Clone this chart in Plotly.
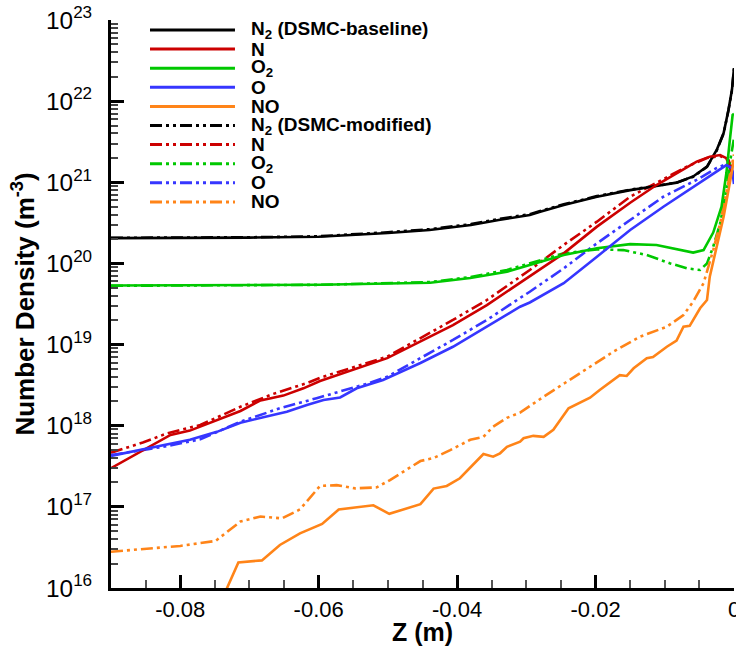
import plotly.graph_objects as go

# ---------------- data (Z in m, number density in m^-3) ----------------
N2_base_x = [-0.0900, -0.0800, -0.0700, -0.0600, -0.0550, -0.0500, -0.0440, -0.0380, -0.0340, -0.0295,
             -0.0280, -0.0246, -0.0198, -0.0150, -0.0112, -0.0083, -0.0059, -0.0039, -0.0025, -0.0015,
             -0.0008, -0.0003, 0.0]
N2_base_y = [2.05e20, 2.06e20, 2.08e20, 2.13e20, 2.24e20, 2.37e20, 2.58e20, 2.97e20, 3.43e20, 3.95e20,
             4.34e20, 5.25e20, 6.64e20, 8.0e20, 9.0e20, 9.9e20, 1.18e21, 1.56e21, 2.5e21, 4.05e21,
             7.8e21, 1.37e22, 2.56e22]
N2_mod_x = N2_base_x
N2_mod_y = [2.07e20, 2.08e20, 2.10e20, 2.16e20, 2.28e20, 2.42e20, 2.64e20, 3.05e20, 3.52e20, 4.05e20,
            4.42e20, 5.35e20, 6.75e20, 8.1e20, 9.05e20, 9.9e20, 1.17e21, 1.55e21, 2.45e21, 4.0e21,
            7.7e21, 1.35e22, 2.5e22]

N_base_x = [-0.0900, -0.0897, -0.0868, -0.0848, -0.0814, -0.0786, -0.0747, -0.0713, -0.0684, -0.0651,
            -0.0622, -0.0598, -0.0501, -0.0406, -0.0357, -0.0309, -0.0295, -0.0246, -0.0198, -0.0150,
            -0.0112, -0.0078, -0.0054, -0.0035, -0.0020, -0.0011, -0.0006, 0.0]
N_base_y = [3.0e17, 3.1e17, 4.24e17, 5.26e17, 7.7e17, 8.7e17, 1.18e18, 1.52e18, 2.05e18, 2.35e18,
            2.89e18, 3.55e18, 6.8e18, 1.74e19, 3.07e19, 5.74e19, 6.86e19, 1.33e20, 2.84e20, 5.6e20,
            9.25e20, 1.36e21, 1.8e21, 2.07e21, 2.17e21, 1.98e21, 1.56e21, 1.1e21]
N_mod_x = [-0.0900, -0.0854, -0.0819, -0.0771, -0.0713, -0.0666, -0.0617, -0.0598, -0.0501, -0.0406,
           -0.0357, -0.0309, -0.0295, -0.0246, -0.0198, -0.0150, -0.0102, -0.0068, -0.0039, -0.0020,
           -0.0008, 0.0]
N_mod_y = [4.65e17, 6.2e17, 8.05e17, 1.02e18, 1.71e18, 2.46e18, 3.35e18, 3.9e18, 7.1e18, 2.01e19,
           3.54e19, 6.86e19, 8.3e19, 1.69e20, 3.27e20, 6.64e20, 1.1e21, 1.56e21, 1.99e21, 2.1e21,
           1.88e21, 1.25e21]

O2_base_x = [-0.0900, -0.0800, -0.0700, -0.0598, -0.0439, -0.0381, -0.0328, -0.0295, -0.0246, -0.0198,
             -0.0150, -0.0112, -0.0083, -0.0059, -0.0044, -0.0030, -0.0018, -0.0011, -0.0006, -0.0002, 0.0]
O2_base_y = [5.35e19, 5.37e19, 5.4e19, 5.45e19, 5.78e19, 6.6e19, 7.9e19, 9.55e19, 1.27e20, 1.54e20,
             1.73e20, 1.69e20, 1.49e20, 1.36e20, 1.46e20, 2.4e20, 5.0e20, 1.3e21, 3.32e21, 6.75e21, 7.0e21]
O2_mod_x = [-0.0900, -0.0800, -0.0700, -0.0598, -0.0439, -0.0381, -0.0328, -0.0295, -0.0246, -0.0198,
            -0.0160, -0.0126, -0.0092, -0.0068, -0.0049, -0.0039, -0.0030, -0.0020, -0.0011, -0.0006, 0.0]
O2_mod_y = [5.3e19, 5.33e19, 5.38e19, 5.45e19, 5.9e19, 6.8e19, 8.3e19, 1.0e20, 1.33e20, 1.49e20,
            1.46e20, 1.27e20, 1.0e20, 8.7e19, 8.3e19, 1.0e20, 1.61e20, 3.12e20, 8.0e20, 1.73e21, 3.5e21]

O_base_x = [-0.0900, -0.0854, -0.0819, -0.0786, -0.0747, -0.0713, -0.0680, -0.0646, -0.0617, -0.0593,
            -0.0569, -0.0545, -0.0507, -0.0453, -0.0406, -0.0357, -0.0309, -0.0295, -0.0246, -0.0198,
            -0.0150, -0.0102, -0.0054, -0.0025, -0.0011, -0.0003, 0.0]
O_base_y = [4.24e17, 5.1e17, 5.78e17, 6.7e17, 8.4e17, 1.09e18, 1.27e18, 1.49e18, 1.80e18, 2.07e18,
            2.23e18, 2.89e18, 3.66e18, 5.93e18, 9.4e18, 1.66e19, 2.93e19, 3.3e19, 5.7e19, 1.21e20,
            2.58e20, 5.0e20, 9.25e20, 1.36e21, 1.63e21, 1.5e21, 9.5e20]
O_mod_x = [-0.0900, -0.0819, -0.0771, -0.0713, -0.0656, -0.0603, -0.0530, -0.0501, -0.0406, -0.0357,
           -0.0309, -0.0295, -0.0246, -0.0198, -0.0150, -0.0102, -0.0054, -0.0025, -0.0011, 0.0]
O_mod_y = [4.35e17, 5.6e17, 6.8e17, 1.12e18, 1.64e18, 2.18e18, 3.3e18, 4.02e18, 1.14e19, 2.01e19,
           3.75e19, 4.48e19, 8.7e19, 1.77e20, 3.43e20, 6.64e20, 1.07e21, 1.5e21, 1.68e21, 1.3e21]

NO_base_x = [-0.0736, -0.0716, -0.0682, -0.0656, -0.0627, -0.0595, -0.0571, -0.0545, -0.0521, -0.0498,
             -0.0453, -0.0434, -0.0415, -0.0396, -0.0362, -0.0348, -0.0338, -0.0328, -0.0309, -0.0304,
             -0.0290, -0.0275, -0.0261, -0.0239, -0.0208, -0.0194, -0.0165, -0.0155, -0.0145, -0.0126,
             -0.0117, -0.0097, -0.0083, -0.0073, -0.0064, -0.0049, -0.0039, -0.0035, -0.0025, -0.0015,
             -0.0008, -0.0003, 0.0]
NO_base_y = [8.5e15, 2.07e16, 2.19e16, 3.39e16, 4.72e16, 6.15e16, 9.3e16, 9.8e16, 1.045e17, 8.2e16,
             1.08e17, 1.68e17, 1.81e17, 2.25e17, 4.48e17, 4.15e17, 4.57e17, 5.5e17, 6.35e17, 7.0e17,
             7.5e17, 7.3e17, 8.9e17, 1.64e18, 2.21e18, 2.76e18, 4.2e18, 4.1e18, 5.1e18, 6.8e18,
             7.0e18, 9.4e18, 1.12e19, 1.66e19, 1.7e19, 2.8e19, 3.54e19, 6.86e19, 1.61e20, 3.77e20,
             8.0e20, 1.42e21, 1.9e21]
NO_mod_x = [-0.0900, -0.0854, -0.0800, -0.0749, -0.0713, -0.0684, -0.0653, -0.0627, -0.0598, -0.0574,
            -0.0547, -0.0516, -0.0497, -0.0453, -0.0434, -0.0410, -0.0381, -0.0362, -0.0348, -0.0328,
            -0.0309, -0.0275, -0.0242, -0.0213, -0.0174, -0.0136, -0.0097, -0.0073, -0.0059, -0.0044,
            -0.0030, -0.0020, -0.0011, -0.0006, 0.0]
NO_mod_y = [2.8e16, 3.0e16, 3.3e16, 3.8e16, 6.6e16, 7.6e16, 7.2e16, 9.3e16, 1.81e17, 1.85e17,
            1.69e17, 1.74e17, 2.14e17, 3.67e17, 4.0e17, 5.0e17, 6.7e17, 7.3e17, 9.7e17, 1.25e18,
            1.45e18, 2.28e18, 3.48e18, 5.1e18, 8.2e18, 1.25e19, 1.66e19, 2.31e19, 3.38e19, 5.7e19,
            1.46e20, 3.12e20, 7.4e20, 1.3e21, 2.2e21]

x_tick_vals = [-0.08, -0.06, -0.04, -0.02, 0.0]
x_tick_text = ["-0.08", "-0.06", "-0.04", "-0.02", "0"]

legend_names = ["N<sub>2</sub> (DSMC-baseline)", "N", "O<sub>2</sub>", "O", "NO",
                "N<sub>2</sub> (DSMC-modified)", "N", "O<sub>2</sub>", "O", "NO"]

# ---------------- styles ----------------
BLACK, RED, GREEN, BLUE, ORANGE = "#000000", "#cc0000", "#00c800", "#3636ff", "#ff8418"
DASHDOTDOT = "12px,4px,3px,4px,3px,4px"
LW = 2.6
FONT = "Liberation Sans, Arial, Helvetica, sans-serif"

series = [
    (N2_mod_x, N2_mod_y, BLACK, DASHDOTDOT),
    (N_mod_x, N_mod_y, RED, DASHDOTDOT),
    (O2_mod_x, O2_mod_y, GREEN, DASHDOTDOT),
    (O_mod_x, O_mod_y, BLUE, DASHDOTDOT),
    (NO_mod_x, NO_mod_y, ORANGE, DASHDOTDOT),
    (N2_base_x, N2_base_y, BLACK, "solid"),
    (N_base_x, N_base_y, RED, "solid"),
    (O2_base_x, O2_base_y, GREEN, "solid"),
    (O_base_x, O_base_y, BLUE, "solid"),
    (NO_base_x, NO_base_y, ORANGE, "solid"),
]
names_in_order = legend_names[5:] + legend_names[:5]

fig = go.Figure()
for (xs, ys, col, dash), nm in zip(series, names_in_order):
    fig.add_trace(go.Scatter(x=xs, y=ys, mode="lines", name=nm, showlegend=False,
                             line=dict(color=col, width=LW, dash=dash)))

# ---------------- legend (box-free, as in the original) ----------------
legend_styles = [(BLACK, "solid"), (RED, "solid"), (GREEN, "solid"), (BLUE, "solid"), (ORANGE, "solid"),
                 (BLACK, DASHDOTDOT), (RED, DASHDOTDOT), (GREEN, DASHDOTDOT), (BLUE, DASHDOTDOT),
                 (ORANGE, DASHDOTDOT)]
shapes, annotations = [], []
for i, (nm, (col, dash)) in enumerate(zip(legend_names, legend_styles)):
    yp = 0.9824 - i * 0.03363
    shapes.append(dict(type="line", xref="paper", yref="paper", x0=0.0626, x1=0.199, y0=yp, y1=yp,
                       line=dict(color=col, width=3, dash=dash)))
    annotations.append(dict(xref="paper", yref="paper", x=0.222, y=yp, xanchor="left", yanchor="middle",
                            text="<b>" + nm + "</b>", showarrow=False,
                            font=dict(family=FONT, size=19, color="black")))

fig.update_layout(
    width=736, height=646,
    margin=dict(l=111, r=2, t=20, b=58, autoexpand=False),
    paper_bgcolor="white", plot_bgcolor="white",
    font=dict(family=FONT, color="black"),
    shapes=shapes, annotations=annotations,
    showlegend=False,
)
fig.update_xaxes(
    range=[-0.09, 0.0], tickmode="array", tickvals=x_tick_vals, ticktext=x_tick_text,
    ticks="inside", ticklen=13, tickwidth=2.5, tickcolor="black",
    tickfont=dict(family=FONT, size=22, color="black"), ticklabeloverflow="allow", automargin=False,
    minor=dict(tickmode="linear", tick0=0, dtick=0.005, ticks="inside", ticklen=8, tickwidth=1.5,
               tickcolor="#555555", showgrid=False),
    showline=True, linewidth=3, linecolor="black", mirror=False,
    showgrid=False, zeroline=False,
    title=dict(text="<b>Z (m)</b>", font=dict(family=FONT, size=25, color="black"), standoff=4),
)
fig.update_yaxes(
    type="log", range=[16, 23], dtick=1, exponentformat="power",
    ticks="inside", ticklen=13, tickwidth=2.5, tickcolor="black",
    tickfont=dict(family=FONT, size=19.5, color="black"), ticklabelstandoff=12, ticklabeloverflow="allow",
    automargin=False,
    minor=dict(dtick="D1", ticks="inside", ticklen=7, tickwidth=1.5, tickcolor="#444444", showgrid=False),
    showline=True, linewidth=3, linecolor="black", mirror=False,
    showgrid=False, zeroline=False,
    title=dict(text="<b>Number Density (m<sup>-3</sup>)</b>", font=dict(family=FONT, size=26, color="black"),
               standoff=4),
)

fig.write_html("out.html")
